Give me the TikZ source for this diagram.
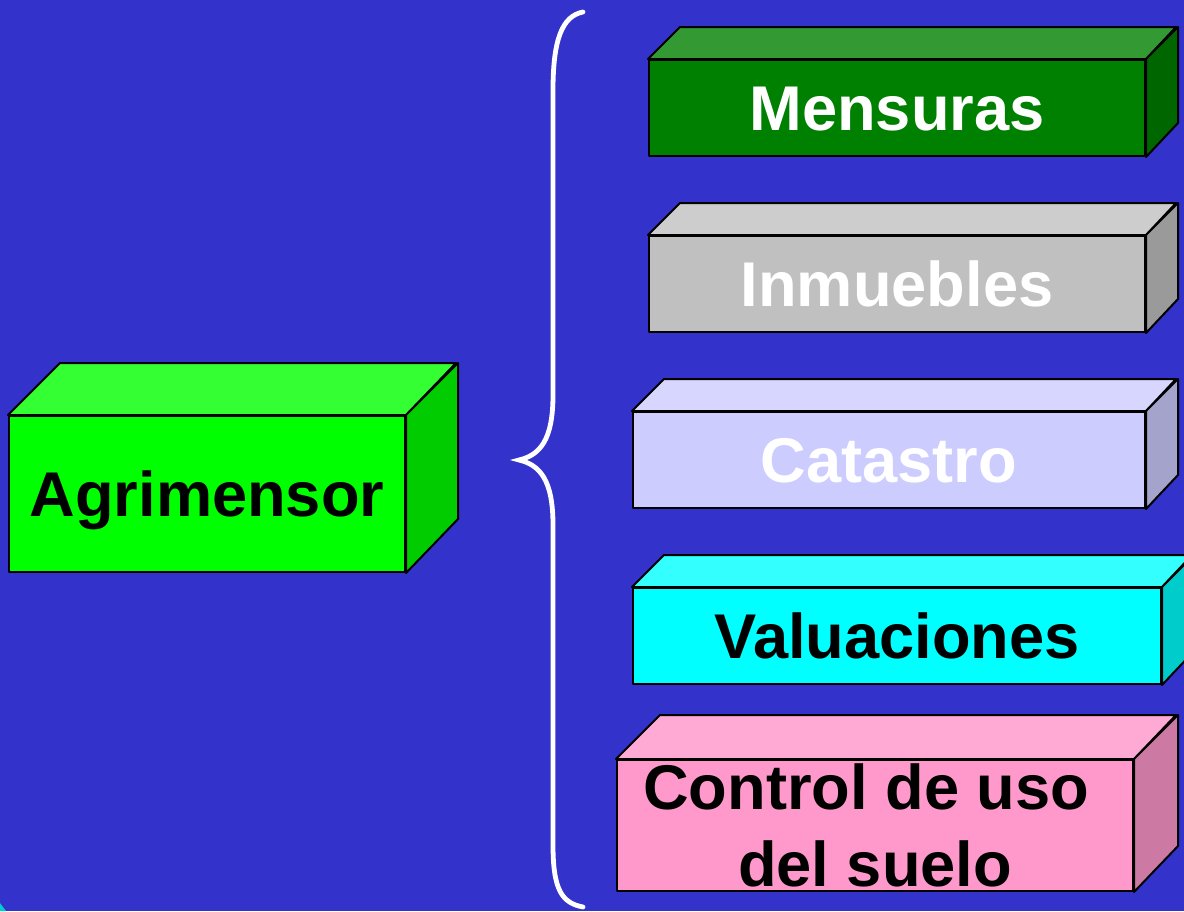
\documentclass[tikz,border=0pt]{standalone}
\usepackage{fontspec}
\setmainfont{Liberation Sans}
\definecolor{fondo}{HTML}{3333CC}
\definecolor{verdeF}{HTML}{00FF00}\definecolor{verdeT}{HTML}{33FF33}\definecolor{verdeS}{HTML}{00CC00}
\definecolor{mensF}{HTML}{008000}\definecolor{mensT}{HTML}{339933}\definecolor{mensS}{HTML}{006600}
\definecolor{inmF}{HTML}{C0C0C0}\definecolor{inmT}{HTML}{CDCDCD}\definecolor{inmS}{HTML}{9A9A9A}
\definecolor{catF}{HTML}{CCCCFF}\definecolor{catT}{HTML}{D6D6FF}\definecolor{catS}{HTML}{A3A3CC}
\definecolor{valF}{HTML}{00FFFF}\definecolor{valT}{HTML}{33FFFF}\definecolor{valS}{HTML}{00CCCC}
\definecolor{ctrlF}{HTML}{FF99CC}\definecolor{ctrlT}{HTML}{FFAAD4}\definecolor{ctrlS}{HTML}{CC7AA3}

\begin{document}
\begin{tikzpicture}[
  cara/.style={draw=black,line width=1pt,line join=round},
  frente/.style={cara,inner sep=0pt,font=\fontsize{31.6}{38.5}\selectfont\bfseries},
  linea/.style={text height=22.7pt,text depth=0pt}]
\begin{scope}[x=.5pt,y=-.5pt]
\useasboundingbox (0,0) rectangle (1184,911);
\fill[fondo] (0,0) rectangle (1184,911);
\fill[valS] (0,903)--(6,911)--(0,911)--cycle;

% caja grande
\node[frente,linea,fill=verdeF,minimum width=198pt,minimum height=78pt] (agri) at (207,494) {Agrimensor};
\draw[cara,fill=verdeT] (agri.north west)--++(52,-52)--++(396,0)--(agri.north east)--cycle;
\draw[cara,fill=verdeS] (agri.north east)--++(52,-52)--++(0,156)--(agri.south east)--cycle;

% llave
\coordinate (punta) at (519,460);
\draw[white,line width=2.4pt,line cap=round] (583,12) .. controls (562,16) and (553,40) .. (553,90)
  -- (553,395) .. controls (553,440) and (540,455) .. (punta)
  .. controls (540,465) and (553,480) .. (553,525)
  -- (553,845) .. controls (553,890) and (562,903) .. (583,907);

% cajas de la derecha
\node[frente,linea,fill=mensF,text=white,minimum width=248pt,minimum height=48pt] (mens) at (897,108) {Mensuras};
\draw[cara,fill=mensT] (mens.north west)--++(32,-32)--++(496,0)--(mens.north east)--cycle;
\draw[cara,fill=mensS] (mens.north east)--++(32,-32)--++(0,96)--(mens.south east)--cycle;

\node[frente,linea,fill=inmF,text=white,minimum width=248pt,minimum height=48pt] (inm) at (897,284) {Inmuebles};
\draw[cara,fill=inmT] (inm.north west)--++(32,-32)--++(496,0)--(inm.north east)--cycle;
\draw[cara,fill=inmS] (inm.north east)--++(32,-32)--++(0,96)--(inm.south east)--cycle;

\node[frente,linea,fill=catF,text=white,minimum width=256pt,minimum height=48pt] (cat) at (889,460) {Catastro};
\draw[cara,fill=catT] (cat.north west)--++(32,-32)--++(512,0)--(cat.north east)--cycle;
\draw[cara,fill=catS] (cat.north east)--++(32,-32)--++(0,96)--(cat.south east)--cycle;

\node[frente,linea,fill=valF,minimum width=264pt,minimum height=48pt] (val) at (897,636) {Valuaciones};
\draw[cara,fill=valT] (val.north west)--++(32,-32)--++(528,0)--(val.north east)--cycle;
\draw[cara,fill=valS] (val.north east)--++(32,-32)--++(0,96)--(val.south east)--cycle;

\node[frente,fill=ctrlF,align=center,minimum width=258pt,minimum height=65.5pt] (ctrl) at (875,825.5) {Control de uso\hspace*{.278em}\\del suelo};
\draw[cara,fill=ctrlT] (ctrl.north west)--++(44,-44)--++(516,0)--(ctrl.north east)--cycle;
\draw[cara,fill=ctrlS] (ctrl.north east)--++(44,-44)--++(0,131)--(ctrl.south east)--cycle;
\end{scope}
\end{tikzpicture}
\end{document}
